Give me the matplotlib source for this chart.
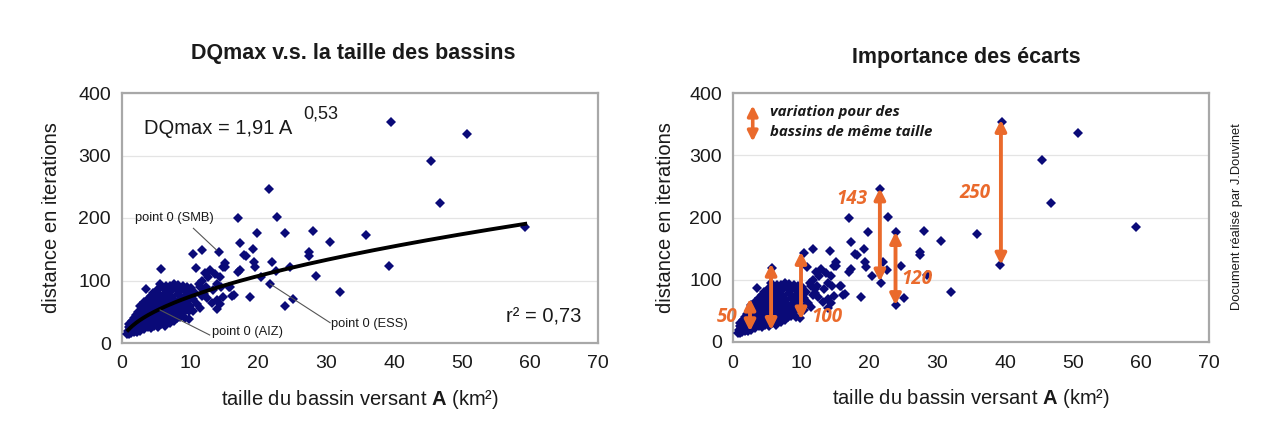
import matplotlib
matplotlib.use("Agg")
import matplotlib.pyplot as plt
import numpy as np

# ---------------- data ----------------
area_km2 = [
    # dense cluster
    0.8, 0.9, 1.0, 1.0, 1.1, 1.1, 1.2, 1.3, 1.3, 1.4, 1.5, 1.5,
    1.6, 1.7, 1.7, 1.8, 1.9, 2.0, 2.0, 2.1, 2.2, 2.2, 2.3, 2.4, 2.4, 2.5, 2.5,
    2.6, 2.7, 2.7, 2.8, 2.9, 3.0, 3.0, 3.1, 3.2, 3.2, 3.3, 3.4, 3.5, 3.5, 3.5,
    3.6, 3.7, 3.8, 3.8, 3.9, 4.0, 4.0, 4.1, 4.2, 4.2, 4.3, 4.4, 4.4, 4.5, 4.5,
    4.6, 4.7, 4.7, 4.8, 4.9, 5.0, 5.0, 5.1, 5.2, 5.2, 5.3, 5.4, 5.4, 5.5, 5.5,
    5.7, 5.6, 5.7, 5.8, 5.9, 6.0, 6.0, 6.1, 6.2, 6.3, 6.3, 6.4, 6.5, 6.5,
    6.6, 6.7, 6.8, 6.9, 7.0, 7.0, 7.1, 7.2, 7.3, 7.3, 7.4, 7.5,
    7.6, 7.7, 7.8, 7.9, 8.0, 8.0, 8.1, 8.2, 8.3, 8.4, 8.5, 8.5,
    8.7, 8.8, 8.9, 9.0, 9.1, 9.2, 9.3, 9.4, 9.5, 9.6, 9.8, 9.9, 10.0, 10.0,
    # 10 - 17 km2
    10.2, 10.4, 10.5, 10.5, 10.8, 10.9, 11.0, 11.3, 11.4, 11.5, 11.7, 11.7,
    11.8, 12.0, 12.0, 12.2, 12.4, 12.5, 12.7, 12.9, 13.2, 13.4, 13.7, 13.9,
    13.9, 14.0, 14.2, 14.4, 14.4, 14.6, 14.9, 14.9, 15.1, 15.2, 15.8, 15.9,
    16.2, 16.4,
    # 17 - 60 km2
    17.0, 17.1, 17.3, 17.4, 18.0, 18.2, 18.8, 19.3, 19.4, 19.6, 19.8, 20.5,
    21.6, 21.7, 22.0, 22.6, 22.8, 23.9, 24.0, 24.7, 25.1, 27.5, 27.5, 28.1,
    28.6, 30.6, 32.1, 35.9, 39.2, 39.5, 45.5, 46.8, 50.7, 59.3,
]
distance_iter = [
    15, 20, 14, 25, 18, 30, 22, 16, 27, 35, 20, 31,
    24, 40, 17, 28, 34, 20, 45, 26, 38, 18, 31, 50, 22, 42, 27,
    35, 60, 20, 47, 30, 55, 24, 40, 65, 33, 22, 50, 86, 28, 44,
    58, 36, 70, 25, 48, 40, 62, 30, 75, 53, 24, 44, 66, 35, 57,
    80, 28, 48, 62, 40, 72, 32, 55, 85, 44, 26, 65, 36, 50, 78,
    119, 95, 30, 60, 42, 70, 88, 35, 52, 78, 28, 64, 45, 92,
    58, 38, 82, 70, 48, 92, 32, 62, 85, 42, 74, 55,
    94, 36, 68, 50, 86, 60, 40, 78, 93, 56, 42, 70,
    85, 62, 48, 92, 74, 56, 40, 84, 66, 90, 52, 38, 76, 60,
    88, 52, 70, 143, 80, 120, 62, 95, 56, 90, 149, 100,
    75, 85, 79, 112, 90, 72, 106, 117, 64, 85, 111, 95,
    69, 55, 146, 106, 63, 90, 122, 74, 128, 122, 90, 90,
    75, 77,
    200, 113, 117, 160, 141, 139, 73, 150, 129, 121, 176, 106,
    246, 95, 129, 116, 201, 60, 176, 122, 71, 145, 139, 179,
    108, 162, 81, 173, 123, 354, 292, 224, 335, 185,
]

trend_coef = 21.9      # curve: ~20 at A=1, ~191 at A=59
trend_exp = 0.53
trend_range = (0.9, 59.3)

x_ticks = [0, 10, 20, 30, 40, 50, 60, 70]
y_ticks = [0, 100, 200, 300, 400]

# variation arrows (x, bottom, top) and their labels
arrow_x = [2.5, 5.6, 10.0, 21.6, 23.9, 39.4]
arrow_low = [17, 19, 36, 97, 59, 124]
arrow_high = [70, 126, 145, 247, 177, 357]
gap_labels = ["50", "100", "143", "120", "250"]
gap_label_x = [-0.9, 13.8, 17.5, 27.0, 35.6]
gap_label_y = [40, 40, 230, 101, 239]

# ---------------- style ----------------
FONT = ["Liberation Sans", "DejaVu Sans"]
plt.rcParams["font.family"] = FONT
plt.rcParams["mathtext.fontset"] = "custom"
plt.rcParams["mathtext.rm"] = "Liberation Sans"
plt.rcParams["mathtext.bf"] = "Liberation Sans:bold"
NAVY = "#0a0a78"
ORANGE = "#EA6A2C"
TXT = "#1a1a1a"

fig = plt.figure(figsize=(12.65, 4.47), dpi=100)
fig.patch.set_facecolor("white")

W, H = 1265, 447
def rect(l, r, t, b):
    return [l / W, 1 - b / H, (r - l) / W, (b - t) / H]

ax1 = fig.add_axes(rect(122, 598, 93, 343))
ax2 = fig.add_axes(rect(733, 1209, 93, 342))

for ax in (ax1, ax2):
    ax.set_xlim(0, 70)
    ax.set_ylim(0, 400)
    ax.set_xticks(x_ticks)
    ax.set_yticks(y_ticks)
    ax.tick_params(length=0, labelsize=14, colors=TXT, pad=8)
    ax.tick_params(axis="x", pad=9)
    for s in ax.spines.values():
        s.set_color("#a8a8a8")
        s.set_linewidth(1.6)
    ax.grid(axis="y", color="#e4e4e4", lw=0.9)
    ax.set_axisbelow(True)
    ax.plot(area_km2, distance_iter, linestyle="none", marker="D",
            markersize=5.2, color=NAVY, markeredgewidth=0, zorder=3)
    ax.set_xlabel("taille du bassin versant $\\mathbf{A}$ (km²)", fontsize=14.5,
                  color=TXT, labelpad=11)

# ---------- left chart ----------
ax1.set_ylabel("distance en iterations", fontsize=14.5, color=TXT, labelpad=12)
xs = np.linspace(trend_range[0], trend_range[1], 200)
ax1.plot(xs, trend_coef * xs ** trend_exp, color="black", lw=2.8, zorder=4)

ax1.text(3.2, 344, "DQmax = 1,91 A", fontsize=14.5, color=TXT, va="center")
ax1.text(26.6, 366, "0,53", fontsize=13, color=TXT, va="center")
ax1.text(56.5, 41.6, "r² = 0,73", fontsize=14.5, color=TXT, va="center")

ax1.text(1.9, 200, "point 0 (SMB)", fontsize=9.3, color=TXT, va="center")
ax1.plot([10.5, 13.9], [183.5, 148.8], color="#555555", lw=0.8, zorder=5)
ax1.text(13.2, 17.6, "point 0 (AIZ)", fontsize=9.3, color=TXT, va="center")
ax1.plot([5.6, 12.9], [52.8, 12.8], color="#555555", lw=0.8, zorder=5)
ax1.text(30.7, 30.4, "point 0 (ESS)", fontsize=9.3, color=TXT, va="center")
ax1.plot([21.8, 30.6], [94.4, 32.5], color="#555555", lw=0.8, zorder=5)

fig.text(353 / W, 1 - 53 / H, "DQmax v.s. la taille des bassins",
         fontsize=15.5, fontweight="bold", color=TXT, ha="center", va="center")

# ---------- right chart ----------
ax2.set_ylabel("distance en iterations", fontsize=14.5, color=TXT, labelpad=10)
fig.text(966 / W, 1 - 58 / H, "Importance des écarts",
         fontsize=15.5, fontweight="bold", color=TXT, ha="center", va="center")

arrow_kw = dict(arrowstyle="<|-|>", color=ORANGE, lw=2.8,
                mutation_scale=16, shrinkA=0, shrinkB=0)
for x, lo, hi in zip(arrow_x, arrow_low, arrow_high):
    ax2.annotate("", xy=(x, hi), xytext=(x, lo), arrowprops=arrow_kw, zorder=6)

LAB_FONT = ["Open Sans", "Lato", "DejaVu Sans"]
for t, x, y in zip(gap_labels, gap_label_x, gap_label_y):
    ax2.text(x, y, t, fontsize=13.5, fontweight="bold", fontstyle="italic",
             color=ORANGE, ha="center", va="center", family=LAB_FONT, zorder=7)

# legend-like arrow and text
ax2.annotate("", xy=(2.9, 380), xytext=(2.9, 322),
             arrowprops=dict(arrowstyle="<|-|>", color=ORANGE, lw=2.6,
                             mutation_scale=15, shrinkA=0, shrinkB=0))
ax2.text(5.4, 369, "variation pour des", fontsize=10.8, fontweight="bold",
         fontstyle="italic", color=TXT, va="center", family=LAB_FONT)
ax2.text(5.4, 337, "bassins de même taille", fontsize=10.8, fontweight="bold",
         fontstyle="italic", color=TXT, va="center", family=LAB_FONT)

fig.text(1237 / W, 1 - 217 / H, "Document réalisé par J.Douvinet",
         fontsize=9.3, color=TXT, rotation=90, ha="center", va="center")

fig.savefig("out.png", dpi=100, facecolor="white")
